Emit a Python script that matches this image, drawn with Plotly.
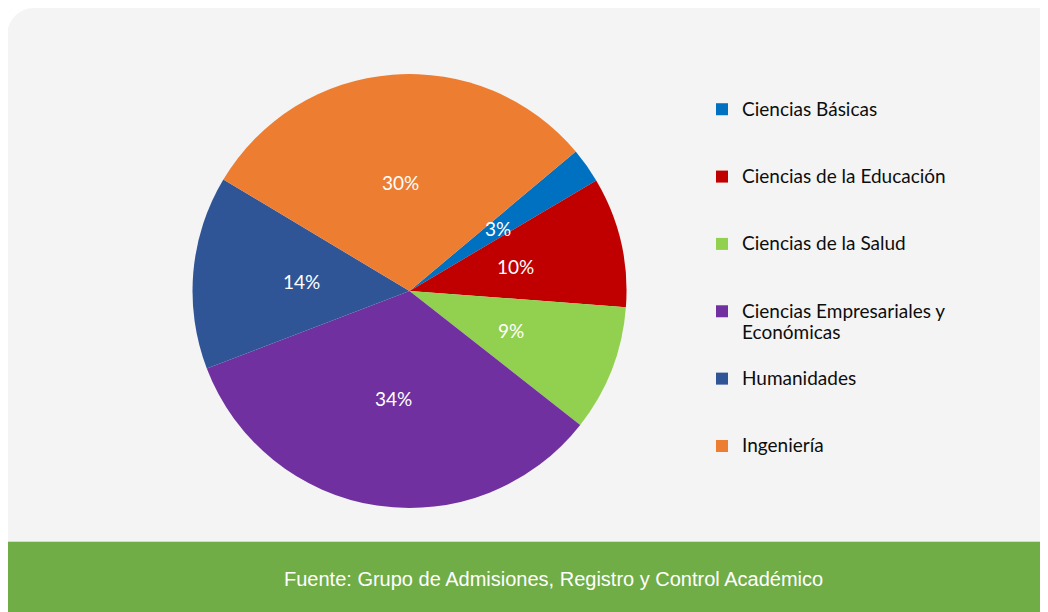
import math
import plotly.graph_objects as go

# ---- data ----
categories = [
    "Ciencias Básicas",
    "Ciencias de la Educación",
    "Ciencias de la Salud",
    "Ciencias Empresariales y Económicas",
    "Humanidades",
    "Ingeniería",
]
shares = [2.6, 9.7, 9.4, 33.6, 14.4, 30.3]
colors = ["#0070C0", "#C00000", "#92D050", "#7030A0", "#2F5597", "#ED7D31"]
source_text = "Fuente: Grupo de Admisiones, Registro y Control Académico"

OFF = 8  # page body margin in the viewer
W, H = 1048 - OFF, 612 - OFF


def px(x):
    return (x - OFF) / W


def py(y):
    return 1 - (y - OFF) / H


def legend_label(name):
    inner = name
    if name == "Ciencias Empresariales y Económicas":
        inner = "Ciencias Empresariales y<br>Económicas"
        return f"<span style='font-size:19px'>{inner}</span><br> "
    return f"<span style='font-size:19px'>{inner}</span><br> <br> "


labels = [legend_label(c) for c in categories]

# pie geometry (page pixels)
cx, cy, r = 409.5, 291, 217
start_deg = 50

fig = go.Figure()
fig.add_trace(go.Pie(
    labels=labels,
    values=shares,
    sort=False,
    direction="clockwise",
    rotation=start_deg,
    marker=dict(colors=colors, line=dict(width=0)),
    textinfo="none",
    domain=dict(x=[px(cx - r), px(cx + r)], y=[py(cy + r), py(cy - r)]),
    hoverinfo="label+percent",
))

# percentage labels at half radius, mid-angle of each slice
annotations = []
total = sum(shares)
acc = 0.0
for v in shares:
    mid = start_deg + 360.0 * (acc + v / 2) / total
    acc += v
    th = math.radians(mid)
    lx = cx + 0.5 * r * math.sin(th)
    ly = cy - 0.5 * r * math.cos(th)
    annotations.append(dict(
        text=f"{round(100 * v / total)}%", xref="paper", yref="paper",
        x=px(lx), y=py(ly), xanchor="center", yanchor="middle",
        showarrow=False,
        font=dict(family="Lato", size=19, color="white"),
    ))

annotations.append(dict(
    text=source_text, xref="paper", yref="paper",
    x=px(553), y=py(579), xanchor="center", yanchor="middle",
    showarrow=False,
    font=dict(family="Liberation Sans Narrow, Liberation Sans", size=20, color="white"),
))


def rounded_path(x0, y0, x1, y1, rtl, rtr, rbr, rbl):
    pts = []
    pts.append(f"M {px(x0 + rtl)},{py(y0)}")
    pts.append(f"L {px(x1 - rtr)},{py(y0)}")
    pts.append(f"Q {px(x1)},{py(y0)} {px(x1)},{py(y0 + rtr)}")
    pts.append(f"L {px(x1)},{py(y1 - rbr)}")
    pts.append(f"Q {px(x1)},{py(y1)} {px(x1 - rbr)},{py(y1)}")
    pts.append(f"L {px(x0 + rbl)},{py(y1)}")
    pts.append(f"Q {px(x0)},{py(y1)} {px(x0)},{py(y1 - rbl)}")
    pts.append(f"L {px(x0)},{py(y0 + rtl)}")
    pts.append(f"Q {px(x0)},{py(y0)} {px(x0 + rtl)},{py(y0)}")
    pts.append("Z")
    return " ".join(pts)


shapes = [
    dict(type="path", xref="paper", yref="paper",
         path=rounded_path(6, 7, 1066, 560, 36, 36, 0, 0),
         fillcolor="#F4F4F4", line=dict(width=0), layer="below"),
    dict(type="path", xref="paper", yref="paper",
         path=rounded_path(6, 541, 1066, 640, 0, 0, 0, 12),
         fillcolor="#70AD47", line=dict(width=0), layer="below"),
    dict(type="line", xref="paper", yref="paper",
         x0=px(6), x1=1, y0=py(541.5), y1=py(541.5),
         line=dict(color="#D4D9D0", width=1), layer="below"),
]

fig.update_layout(
    width=W, height=H,
    margin=dict(l=0, r=0, t=0, b=0),
    paper_bgcolor="white",
    plot_bgcolor="white",
    shapes=shapes,
    annotations=annotations,
    showlegend=True,
    legend=dict(
        x=px(702), y=py(92), xanchor="left", yanchor="top",
        valign="top",
        bgcolor="rgba(0,0,0,0)",
        font=dict(family="Lato", size=16.5, color="#0D0D0D"),
        traceorder="normal",
    ),
)

fig.write_html("out.html")
